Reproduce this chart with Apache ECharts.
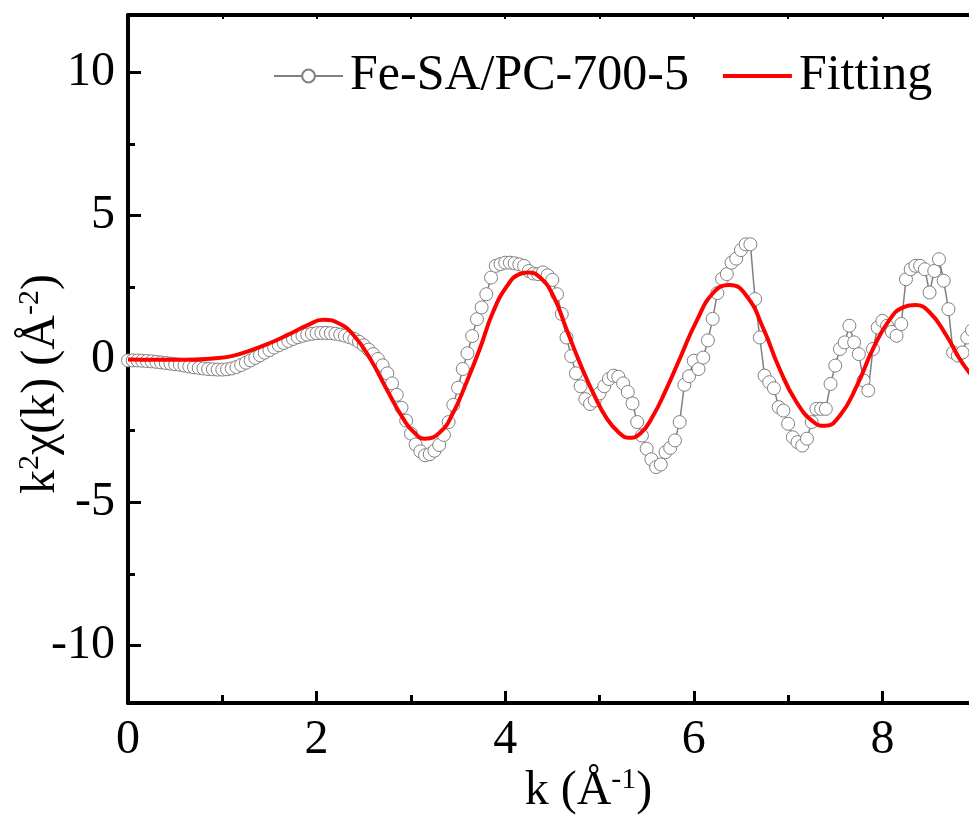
<!DOCTYPE html>
<html><head><meta charset="utf-8">
<script src="https://cdn.jsdelivr.net/npm/echarts@6/dist/echarts.min.js"></script>
<style>html,body{margin:0;padding:0;background:#fff;overflow:hidden;width:969px;height:816px}#c{width:1100px;height:816px}</style>
</head><body><div id="c"></div><script>
// ---- data ----
const seriesNames = ['Fe-SA/PC-700-5', 'Fitting'];
const kValues = [0.00,0.05,0.10,0.15,0.20,0.25,0.30,0.35,0.40,0.45,0.50,0.55,0.60,0.65,0.70,0.75,0.80,0.85,0.90,0.95,
1.00,1.05,1.10,1.15,1.20,1.25,1.30,1.35,1.40,1.45,1.50,1.55,1.60,1.65,1.70,1.75,1.80,1.85,1.90,1.95,
2.00,2.05,2.10,2.15,2.20,2.25,2.30,2.35,2.40,2.45,2.50,2.55,2.60,2.65,2.70,2.75,2.80,2.85,2.90,2.95,
3.00,3.05,3.10,3.15,3.20,3.25,3.30,3.35,3.40,3.45,3.50,3.55,3.60,3.65,3.70,3.75,3.80,3.85,3.90,3.95,
4.00,4.05,4.10,4.15,4.20,4.25,4.30,4.35,4.40,4.45,4.50,4.55,4.60,4.65,4.70,4.75,4.80,4.85,4.90,4.95,
5.00,5.05,5.10,5.15,5.20,5.25,5.30,5.35,5.40,5.45,5.50,5.55,5.60,5.65,5.70,5.75,5.80,5.85,5.90,5.95,
6.00,6.05,6.10,6.15,6.20,6.25,6.30,6.35,6.40,6.45,6.50,6.55,6.60,6.65,6.70,6.75,6.80,6.85,6.90,6.95,
7.00,7.05,7.10,7.15,7.20,7.25,7.30,7.35,7.40,7.45,7.50,7.55,7.60,7.65,7.70,7.75,7.80,7.85,7.90,7.95,
8.00,8.05,8.10,8.15,8.20,8.25,8.30,8.35,8.40,8.45,8.50,8.55,8.60,8.65,8.70,8.75,8.80,8.85,8.90,8.95];
const chiValues = [-0.05,-0.05,-0.05,-0.06,-0.07,-0.08,-0.10,-0.12,-0.14,-0.16,-0.18,-0.20,-0.23,-0.26,-0.29,-0.31,-0.33,-0.35,-0.36,-0.37,
-0.37,-0.36,-0.33,-0.28,-0.21,-0.13,-0.05,0.04,0.13,0.22,0.31,0.40,0.48,0.56,0.63,0.70,0.76,0.81,0.85,0.88,
0.90,0.91,0.91,0.90,0.88,0.85,0.81,0.76,0.70,0.60,0.48,0.33,0.17,0.00,-0.22,-0.50,-0.85,-1.25,-1.70,-2.15,
-2.60,-2.98,-3.22,-3.36,-3.32,-3.20,-3.00,-2.65,-2.20,-1.60,-1.00,-0.35,0.20,0.80,1.39,1.80,2.26,2.84,3.25,3.31,
3.36,3.36,3.34,3.30,3.25,3.07,2.98,2.96,3.02,2.92,2.76,2.26,1.57,0.75,0.10,-0.50,-0.95,-1.40,-1.57,-1.45,
-1.20,-0.95,-0.70,-0.58,-0.62,-0.85,-1.15,-1.55,-2.20,-2.67,-3.13,-3.50,-3.77,-3.68,-3.25,-3.10,-2.84,-2.20,-0.90,-0.60,
-0.06,-0.35,0.05,0.65,1.40,2.30,2.80,2.96,3.36,3.50,3.80,4.00,4.00,2.09,0.75,-0.58,-0.81,-1.02,-1.68,-1.80,
-2.26,-2.73,-2.90,-3.02,-2.78,-2.20,-1.74,-1.74,-1.74,-0.87,-0.23,0.35,0.58,1.16,0.58,0.17,-0.75,-1.10,0.35,1.10,
1.33,1.16,0.95,0.81,1.22,2.78,3.13,3.25,3.25,3.13,2.32,3.07,3.48,2.73,1.74,0.23,0.12,0.23,0.75,1.00];
const fitK = [0,0.3,0.6,0.9,1.1,1.3,1.5,1.7,1.9,2.07,2.25,2.4,2.57,2.74,2.92,3.03,3.15,3.31,3.45,3.59,3.73,3.87,4.02,4.15,4.24,4.37,4.51,4.65,4.79,4.93,5.08,5.22,5.30,5.43,5.57,5.71,5.85,6.03,6.21,6.38,6.56,6.74,6.91,7.09,7.27,7.39,7.55,7.73,7.90,8.08,8.22,8.35,8.50,8.68,8.82,8.92,9.05];
const fitY = [-0.02,-0.03,-0.03,0.02,0.10,0.30,0.55,0.85,1.17,1.37,1.22,0.80,0.00,-1.04,-2.09,-2.55,-2.78,-2.55,-1.86,-0.81,0.35,1.63,2.55,2.96,3.02,2.84,2.20,1.04,-0.12,-1.16,-2.09,-2.61,-2.75,-2.61,-1.97,-1.04,0.00,1.33,2.32,2.58,2.20,1.04,-0.35,-1.51,-2.20,-2.33,-1.97,-0.93,0.35,1.39,1.80,1.88,1.63,0.81,0.00,-0.46,-1.00];
const yLabelValues = [-10, -5, 0, 5, 10];
const yMinorTickValues = [-7.5, -2.5, 2.5, 7.5];

// ---- chart ----
const FONT = 'Liberation Serif';
const chart = echarts.init(document.getElementById('c'), null, {renderer: 'canvas', width: 1100, height: 816});
const expData = kValues.map((k, i) => [k, chiValues[i]]);
const fitData = fitK.map((k, i) => [k, fitY[i]]);
const axisLine = {show: true, onZero: false, lineStyle: {color: '#000', width: 4}};
const option = {
  animation: false,
  backgroundColor: '#fff',
  grid: {left: 128, top: 15, right: 29, bottom: 113, containLabel: false, outerBoundsMode: 'none'},
  legend: {
    left: 268, top: 46, itemWidth: 69, itemHeight: 16, itemGap: 34,
    textStyle: {fontFamily: FONT, fontSize: 50, color: '#000', padding: [0, 0, 12, 2]},
    data: [
      {name: seriesNames[0]},
      {name: seriesNames[1], icon: 'path://M0 0H69V4H0Z', itemStyle: {color: '#ff0000'}}
    ]
  },
  xAxis: [{
    type: 'value', min: 0, max: 10, interval: 2, position: 'bottom',
    axisLine: axisLine,
    axisTick: {show: true, inside: true, length: 12, lineStyle: {color: '#000', width: 3}},
    minorTick: {show: true, splitNumber: 2, length: 8, lineStyle: {color: '#000', width: 3}},
    splitLine: {show: false}, minorSplitLine: {show: false},
    axisLabel: {fontFamily: FONT, fontSize: 48, color: '#000', margin: 13},
    name: '{i|k (Å}{s|-1}{i|)}', nameLocation: 'middle', nameGap: 62, nameMoveOverlap: false,
    nameTextStyle: {fontFamily: FONT, fontSize: 48, color: '#000', padding: [0, 22, 0, 0],
      rich: {i: {fontFamily: FONT, fontSize: 48, color: '#000'},
             s: {fontFamily: FONT, fontSize: 30, color: '#000', verticalAlign: 'bottom', padding: [0, 0, 22, 0]}}}
  }, {
    type: 'value', min: 0, max: 10, interval: 1, position: 'top',
    axisLine: axisLine,
    axisTick: {show: true, inside: true, length: 4, lineStyle: {color: '#000', width: 2}},
    axisLabel: {show: false}, splitLine: {show: false}
  }],
  yAxis: [{
    type: 'value', min: -12, max: 12, position: 'left',
    axisLine: axisLine,
    axisTick: {show: true, inside: true, length: 13, customValues: yLabelValues, lineStyle: {color: '#000', width: 3}},
    axisLabel: {fontFamily: FONT, fontSize: 48, color: '#000', margin: 13, customValues: yLabelValues},
    splitLine: {show: false},
    name: '{i|k}{s|2}{i|χ(k) (Å}{s|-2}{i|)}', nameLocation: 'middle', nameGap: 61, nameMoveOverlap: false,
    nameTextStyle: {fontFamily: FONT, fontSize: 48, color: '#000', padding: [0, 50, 0, 0],
      rich: {i: {fontFamily: FONT, fontSize: 48, color: '#000'},
             s: {fontFamily: FONT, fontSize: 30, color: '#000', verticalAlign: 'bottom', padding: [0, 0, 22, 0]}}}
  }, {
    type: 'value', min: -12, max: 12, position: 'left',
    axisLine: {show: false, onZero: false},
    axisTick: {show: true, inside: true, length: 7, customValues: yMinorTickValues, lineStyle: {color: '#000', width: 3}},
    axisLabel: {show: false}, splitLine: {show: false}
  }],
  series: [{
    name: seriesNames[0], type: 'line', data: expData, xAxisIndex: 0, yAxisIndex: 0,
    symbol: 'circle', symbolSize: 13, showAllSymbol: true,
    itemStyle: {color: '#fff', borderColor: '#808080', borderWidth: 1},
    lineStyle: {color: '#808080', width: 1.5},
    z: 2
  }, {
    name: seriesNames[1], type: 'line', data: fitData, xAxisIndex: 0, yAxisIndex: 0,
    symbol: 'none', smooth: 0.5,
    itemStyle: {color: '#ff0000'},
    lineStyle: {color: '#ff0000', width: 4},
    z: 3
  }]
};
chart.setOption(option);
</script></body></html>
